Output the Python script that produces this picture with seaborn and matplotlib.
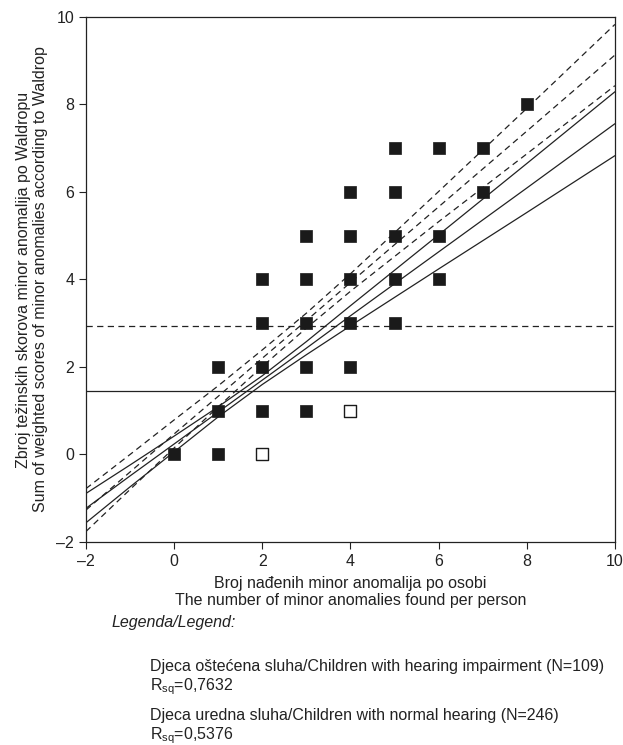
"""
Minor anomalies vs. weighted Waldrop scores, hearing-impaired and normal hearing children.
"""

import matplotlib
matplotlib.use('Agg')
import matplotlib.pyplot as plt
import pandas as pd
import seaborn as sns

# Observed (x, y) combinations, filled squares
x_filled = [0, 1, 1, 1, 2, 2, 2, 2, 3, 3, 3, 3, 3, 4, 4, 4, 4, 4,
            5, 5, 5, 5, 5, 6, 6, 6, 7, 7, 8]
y_filled = [0, 0, 1, 2, 1, 2, 3, 4, 1, 2, 3, 4, 5, 2, 3, 4, 5, 6,
            3, 4, 5, 6, 7, 4, 5, 7, 6, 7, 8]

# Open squares
x_open = [2, 4]
y_open = [0, 1]

line_x = [-2, -1, 0, 1, 2, 3, 4, 6, 8, 10]
impaired_fit = [-1.27, -0.40, 0.47, 1.33, 2.20, 3.06, 3.93, 5.66, 7.39, 9.13]
impaired_upper = [-0.78, 0.00, 0.79, 1.57, 2.39, 3.23, 4.13, 6.01, 7.91, 9.83]
impaired_lower = [-1.76, -0.80, 0.15, 1.09, 2.01, 2.89, 3.73, 5.32, 6.87, 8.43]
normal_fit = [-1.23, -0.49, 0.24, 0.97, 1.70, 2.43, 3.17, 4.63, 6.09, 7.56]
normal_upper = [-0.89, -0.24, 0.42, 1.09, 1.80, 2.58, 3.40, 5.02, 6.65, 8.29]
normal_lower = [-1.56, -0.74, 0.06, 0.86, 1.60, 2.28, 2.94, 4.24, 5.53, 6.83]

# Group means (horizontal lines)
impaired_mean = 2.93
normal_mean = 1.46

x_ticks = [-2, 0, 2, 4, 6, 8, 10]
y_ticks = [-2, 0, 2, 4, 6, 8, 10]

FS = 11.5
INK = '#222222'


def main():
    sns.set_theme(style='ticks')
    plt.rcParams['font.family'] = ['Liberation Sans', 'DejaVu Sans']
    plt.rcParams['mathtext.fontset'] = 'custom'
    plt.rcParams['mathtext.rm'] = 'Liberation Sans'

    fig = plt.figure(figsize=(6.23, 7.45), dpi=100)
    ax = fig.add_axes([0.138, 0.2725, 0.849, 0.7047])

    dash = (0, (5, 3.5))
    lines = [
        (impaired_fit, dash), (impaired_upper, dash), (impaired_lower, dash),
        (normal_fit, '-'), (normal_upper, '-'), (normal_lower, '-'),
    ]
    for ys, ls in lines:
        sns.lineplot(x=line_x, y=ys, ax=ax, color=INK, lw=0.9,
                     linestyle=ls, legend=False)

    ax.axhline(impaired_mean, color=INK, lw=0.9, linestyle=dash)
    ax.axhline(normal_mean, color=INK, lw=0.9)

    df_f = pd.DataFrame({'x': x_filled, 'y': y_filled})
    df_o = pd.DataFrame({'x': x_open, 'y': y_open})
    sns.scatterplot(data=df_f, x='x', y='y', ax=ax, marker='s', s=80,
                    color='#1a1a1a', edgecolor='#1a1a1a', linewidth=0.5, zorder=5)
    sns.scatterplot(data=df_o, x='x', y='y', ax=ax, marker='s', s=70,
                    facecolor='white', edgecolor='#1a1a1a', linewidth=1.0, zorder=5)

    ax.set_xlim(-2, 10)
    ax.set_ylim(-2, 10)
    ax.set_xticks(x_ticks)
    ax.set_yticks(y_ticks)
    ax.set_xticklabels([str(t).replace('-', '\u2013') for t in x_ticks])
    ax.set_yticklabels([str(t).replace('-', '\u2013') for t in y_ticks])
    ax.tick_params(labelsize=FS, length=5, width=0.8, colors=INK)
    for sp in ax.spines.values():
        sp.set_linewidth(0.9)
        sp.set_color(INK)

    ax.set_xlabel('Broj nađenih minor anomalija po osobi\n'
                  'The number of minor anomalies found per person',
                  fontsize=FS, color=INK, labelpad=5, linespacing=1.15)
    ax.set_ylabel('Zbroj težinskih skorova minor anomalija po Waldropu\n'
                  'Sum of weighted scores of minor anomalies according to Waldrop',
                  fontsize=FS, color=INK, labelpad=6, linespacing=1.15)

    # Legend block under the chart
    fig.text(112 / 623, 1 - 627 / 745, 'Legenda/Legend:', fontsize=FS,
             style='italic', color=INK)
    fig.text(150 / 623, 1 - 671 / 745,
             'Djeca oštećena sluha/Children with hearing impairment (N=109)',
             fontsize=FS, color=INK)
    fig.text(150 / 623, 1 - 690 / 745, r'R$_{\mathrm{sq}}$=0,7632',
             fontsize=FS, color=INK)
    fig.text(150 / 623, 1 - 720 / 745,
             'Djeca uredna sluha/Children with normal hearing (N=246)',
             fontsize=FS, color=INK)
    fig.text(150 / 623, 1 - 739 / 745, r'R$_{\mathrm{sq}}$=0,5376',
             fontsize=FS, color=INK)

    fig.savefig('out.png', dpi=100)


if __name__ == '__main__':
    main()
